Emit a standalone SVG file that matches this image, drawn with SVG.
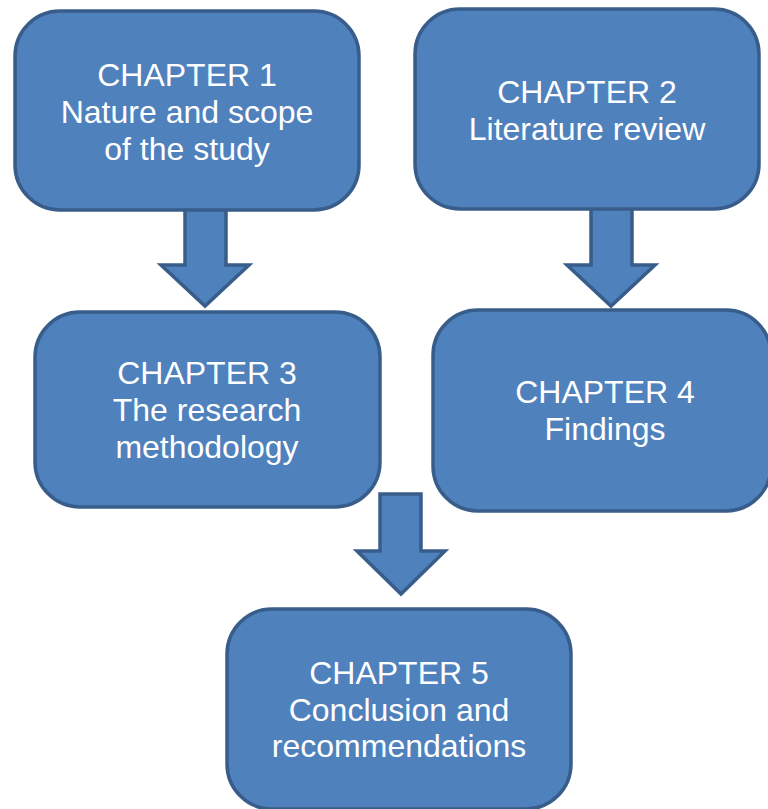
<svg xmlns="http://www.w3.org/2000/svg" width="768" height="809" viewBox="0 0 768 809">
<style>
.box{fill:#4F81BD;stroke:#385D8A;stroke-width:3.5}
.arr{fill:#4F81BD;stroke:#385D8A;stroke-width:3.5;stroke-linejoin:miter}
.t{font-family:"Liberation Sans",Arial,sans-serif;font-size:32px;fill:#FFFFFF;text-anchor:middle}
</style>
<rect width="768" height="809" fill="#FFFFFF"/>
<g id="connectors">
<polygon class="arr" points="185,200 226,200 226,265 249,265 205,306 161,265 185,265"/>
<polygon class="arr" points="591,200 632,200 632,265 655,265 611,306 567,265 591,265"/>
<polygon class="arr" points="380,494 421,494 421,551 445,551 401,594 357,551 380,551"/>
</g>
<g id="node1">
<rect class="box" x="15" y="11" width="344" height="199" rx="45" ry="45"/>
<text class="t" x="187" y="86">CHAPTER 1</text>
<text class="t" x="187" y="123">Nature and scope</text>
<text class="t" x="187" y="160">of the study</text>
</g>
<g id="node2">
<rect class="box" x="415" y="9" width="344" height="200" rx="45" ry="45"/>
<text class="t" x="587" y="103">CHAPTER 2</text>
<text class="t" x="587" y="140">Literature review</text>
</g>
<g id="node3">
<rect class="box" x="35" y="312" width="345" height="195" rx="45" ry="45"/>
<text class="t" x="207" y="384">CHAPTER 3</text>
<text class="t" x="207" y="421">The research</text>
<text class="t" x="207" y="458">methodology</text>
</g>
<g id="node4">
<rect class="box" x="433" y="310" width="338" height="201" rx="45" ry="45"/>
<text class="t" x="605" y="403">CHAPTER 4</text>
<text class="t" x="605" y="440">Findings</text>
</g>
<g id="node5">
<rect class="box" x="227" y="609" width="344" height="200" rx="45" ry="45"/>
<text class="t" x="399" y="684">CHAPTER 5</text>
<text class="t" x="399" y="721">Conclusion and</text>
<text class="t" x="399" y="757">recommendations</text>
</g>
</svg>
